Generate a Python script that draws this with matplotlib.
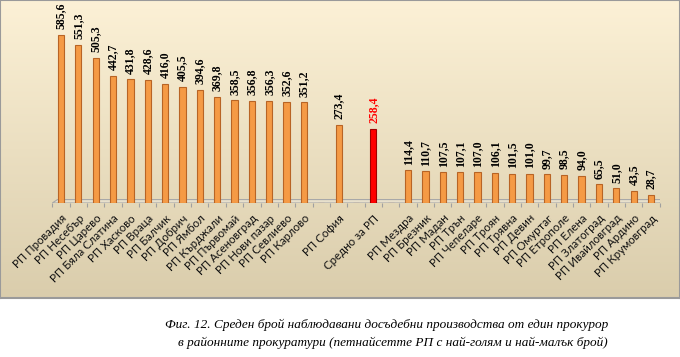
import numpy as np
import matplotlib
matplotlib.use("Agg")
import matplotlib.pyplot as plt
from matplotlib.patches import Polygon

# data
top_names = ["РП Провадия", "РП Несебър", "РП Царево", "РП Бяла Слатина", "РП Хасково",
             "РП Враца", "РП Балчик", "РП Добрич", "РП Ямбол", "РП Кърджали",
             "РП Първомай", "РП Асеновград", "РП Нови пазар", "РП Севлиево", "РП Карлово"]
top_values = [585.6, 551.3, 505.3, 442.7, 431.8, 428.6, 416.0, 405.5, 394.6, 369.8,
              358.5, 356.8, 356.3, 352.6, 351.2]
sofia_name = "РП София"
sofia_value = 273.4
avg_name = "Средно за РП"
avg_value = 258.4
low_names = ["РП Мездра", "РП Брезник", "РП Мадан", "РП Трън", "РП Чепеларе", "РП Троян",
             "РП Трявна", "РП Девин", "РП Омуртаг", "РП Етрополе", "РП Елена",
             "РП Златоград", "РП Ивайловград", "РП Ардино", "РП Крумовград"]
low_values = [114.4, 110.7, 107.5, 107.1, 107.0, 106.1, 101.5, 101.0, 99.7, 98.5, 94.0,
              65.5, 51.0, 43.5, 28.7]

caption1 = "Фиг. 12. Среден брой наблюдавани досъдебни производства от един прокурор"
caption2 = "в районните прокуратури (петнайсетте РП с най-голям и най-малък брой)"

# build the slot list: gaps between groups
names = top_names + [""] + [sofia_name] + [""] + [avg_name] + [""] + low_names
values = top_values + [np.nan] + [sofia_value] + [np.nan] + [avg_value] + [np.nan] + low_values
x = np.arange(len(names))

W, H = 680, 357
fig = plt.figure(figsize=(W / 100, H / 100), dpi=100)
fig.patch.set_facecolor("white")

# background panel with vertical gradient
panel_h = 298
bg = fig.add_axes([0, 1 - panel_h / H, 1, panel_h / H])
top_c = np.array([252, 241, 214]) / 255
bot_c = np.array([218, 205, 172]) / 255
t = np.linspace(0, 1, 256)[:, None]
grad = top_c[None, :] * (1 - t[..., None]) + bot_c[None, :] * t[..., None]
grad = np.repeat(grad, 2, axis=1)
bg.imshow(grad, aspect="auto", extent=[0, 1, 0, 1])
bg.set_xticks([])
bg.set_yticks([])
for s in bg.spines.values():
    s.set_color("#9a9a9a")
    s.set_linewidth(1.5)

# main axes
left_px, right_px = 52.3, 659.7
base_px = 203
ymax = 700
px_per_unit = 0.287
ax_h = ymax * px_per_unit
ax = fig.add_axes([left_px / W, 1 - base_px / H, (right_px - left_px) / W, ax_h / H])
ax.patch.set_alpha(0)
ax.set_xlim(-0.5, len(names) - 0.5)
ax.set_ylim(0, ymax)

colors = ["#f59a45"] * len(names)
edges = ["#b86425"] * len(names)
avg_i = names.index(avg_name)
colors[avg_i] = "#ff0000"
edges[avg_i] = "#a00000"
ax.bar(x, np.nan_to_num(values), width=0.36, color=colors, edgecolor=edges, linewidth=0.8, zorder=3)

for xi, v, n in zip(x, values, names):
    if np.isnan(v):
        continue
    ax.annotate(f"{v:.1f}".replace(".", ","), (xi, v), xytext=(0, 4), textcoords="offset points",
                rotation=90, ha="center", va="bottom", fontsize=8.5, fontweight="bold",
                family="Liberation Serif", color="red" if n == avg_name else "black")

# floor of the pseudo 3D chart
floor = Polygon([(-0.5, 0), (34.5, 0), (34.8, 12), (-0.2, 12)], closed=True,
                facecolor="#e8e0cc", edgecolor="#a8a8a8", linewidth=0.8, zorder=2)
ax.add_patch(floor)

for s in ax.spines.values():
    s.set_visible(False)
ax.set_yticks([])
ax.set_xticks(x)
ax.set_xticklabels(names, rotation=45, ha="right", va="top", rotation_mode="anchor",
                   fontsize=8.3, family="Lato", color="#111111")
ax.tick_params(axis="x", length=0, pad=7)
ax.set_xticks(np.arange(-0.5, len(names)), minor=True)
ax.tick_params(axis="x", which="minor", length=3, color="#a0a0a0", width=0.8)

fig.text(165 / W, 1 - 325 / H, caption1, family="Liberation Serif", style="italic",
         fontsize=9.5, ha="left", va="center")
fig.text(178 / W, 1 - 343 / H, caption2, family="Liberation Serif", style="italic",
         fontsize=9.5, ha="left", va="center")

fig.savefig("out.png", dpi=100)
